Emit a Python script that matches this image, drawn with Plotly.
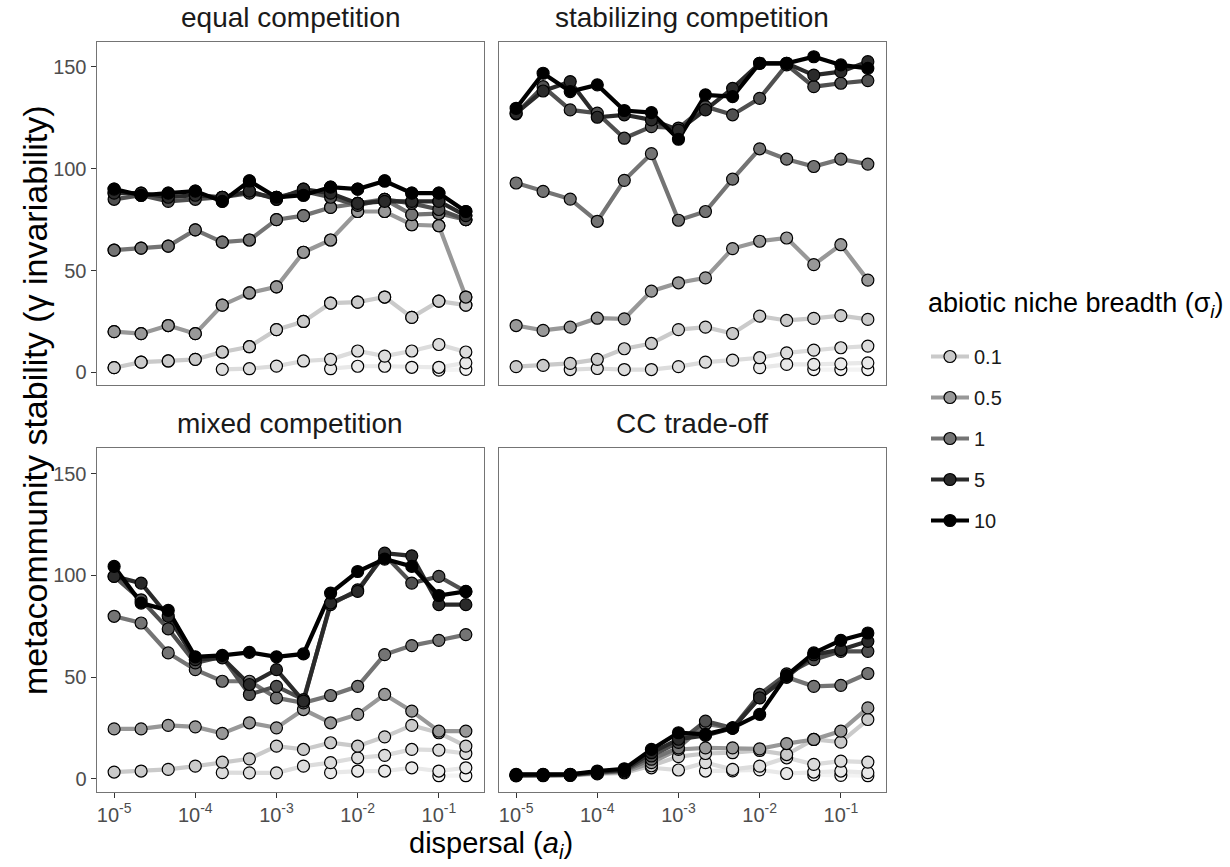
import plotly.graph_objects as go

# ---- data -----------------------------------------------------------------
dispersal = [1e-5, 2.15e-5, 4.64e-5, 1e-4, 2.15e-4, 4.64e-4, 1e-3, 2.15e-3,
             4.64e-3, 1e-2, 2.15e-2, 4.64e-2, 1e-1, 2.15e-1]

sigma_levels = [0.01, 0.025, 0.05, 0.1, 0.5, 1, 2.5, 5, 10]
sigma_colors = ["#f3f3f3", "#e9e9e9", "#dcdcdc", "#cacaca", "#989898",
                "#747474", "#505050", "#2a2a2a", "#000000"]
legend_levels = [0.1, 0.5, 1, 5, 10]

panel_titles = ["equal competition", "stabilizing competition",
                "mixed competition", "CC trade-off"]

N = None

# equal competition
eq_001 = [N, N, N, N, N, N, N, N, N, N, N, N, 1.1, 1.5]
eq_0025 = [N, N, N, N, N, N, N, N, 1.8, 3.0, 3.0, 2.5, 2.5, 4.7]
eq_005 = [N, N, N, N, 1.5, 1.8, 3.1, 5.6, 6.4, 10.5, 8.0, 10.5, 13.7, 10.0]
eq_01 = [2.3, 5.0, 5.6, 6.4, 10.0, 12.6, 21.0, 25.0, 34.0, 34.5, 37.0, 27.0, 35.0, 33.0]
eq_05 = [20.0, 19.0, 23.0, 19.0, 33.0, 39.0, 42.0, 59.0, 65.0, 79.0, 79.0, 72.5, 72.0, 37.0]
eq_1 = [60.0, 61.0, 62.0, 70.0, 64.0, 65.0, 75.0, 77.0, 81.0, 83.0, 85.0, 77.5, 78.0, 75.0]
eq_25 = [85.0, 87.0, 84.0, 85.0, 86.0, 88.0, 86.0, 89.0, 86.0, 82.0, 85.0, 83.0, 80.0, 75.0]
eq_5 = [88.0, 88.0, 86.0, 87.0, 86.0, 89.0, 85.0, 90.0, 88.0, 83.0, 84.0, 84.0, 84.0, 77.0]
eq_10 = [90.0, 87.0, 88.0, 89.0, 84.0, 94.0, 86.0, 87.0, 91.0, 90.0, 94.0, 88.0, 88.0, 79.0]

# stabilizing competition
st_001 = [N, N, N, N, N, N, N, N, N, N, N, 1.4, 1.4, 1.4]
st_0025 = [N, N, N, N, N, N, N, N, N, 2.3, 3.9, 3.9, 4.2, 4.7]
st_005 = [N, N, 1.4, 1.9, 1.4, 1.4, 2.8, 5.0, 6.0, 7.2, 9.6, 10.9, 12.1, 12.9]
st_01 = [2.8, 3.4, 4.4, 6.4, 11.6, 14.2, 21.0, 22.2, 19.1, 27.6, 25.5, 26.5, 27.9, 26.0]
st_05 = [23.0, 20.6, 22.2, 26.6, 26.3, 39.9, 44.0, 46.4, 60.8, 64.4, 66.0, 52.9, 62.7, 45.3]
st_1 = [93.0, 88.9, 85.1, 74.2, 94.3, 107.4, 74.7, 79.0, 94.9, 109.8, 104.7, 101.1, 104.7, 102.3]
st_25 = [127.0, 140.3, 128.9, 127.3, 115.0, 120.7, 120.0, 130.5, 126.5, 134.6, 151.0, 140.3, 142.0, 143.3]
st_5 = [127.3, 138.2, 142.8, 125.3, 126.5, 124.0, 119.0, 128.9, 139.5, 151.8, 151.8, 146.0, 147.7, 152.6]
st_10 = [129.7, 146.9, 137.9, 141.2, 128.6, 127.6, 114.5, 136.3, 135.4, 151.8, 151.8, 155.0, 151.0, 149.3]

# mixed competition
mx_001 = [N, N, N, N, N, N, N, N, N, N, N, N, 1.6, 1.6]
mx_0025 = [N, N, N, N, N, N, N, N, 3.1, 3.9, 3.9, 5.5, 3.9, 5.5]
mx_005 = [N, N, N, N, 3.1, 3.0, 3.0, 6.3, 8.0, 10.4, 11.6, 14.5, 14.2, 12.5]
mx_01 = [3.4, 3.9, 4.7, 6.3, 8.3, 9.9, 16.1, 14.5, 17.8, 16.1, 20.7, 26.3, 22.7, 16.1]
mx_05 = [24.6, 24.6, 26.3, 25.6, 22.4, 27.6, 25.1, 34.1, 27.6, 31.7, 41.5, 33.3, 23.5, 23.5]
mx_1 = [79.9, 76.6, 61.9, 53.7, 48.0, 48.0, 39.8, 37.4, 41.0, 45.5, 61.1, 65.5, 68.1, 70.9]
mx_25 = [99.5, 88.0, 73.7, 57.0, 60.0, 41.5, 45.5, 39.0, 85.6, 92.9, 110.0, 96.2, 99.5, 92.0]
mx_5 = [99.5, 96.2, 79.9, 58.6, 59.5, 46.4, 53.7, 38.2, 86.4, 92.1, 110.9, 109.6, 85.6, 85.6]
mx_10 = [104.4, 86.4, 82.8, 60.0, 60.7, 62.2, 60.0, 61.4, 91.3, 101.9, 108.0, 104.4, 90.1, 92.1]

# colonization-competition trade-off
cc_001 = [N, N, N, N, N, N, N, N, N, N, N, 2.0, 1.8, 1.6]
cc_0025 = [N, N, N, N, N, N, N, 3.9, 4.0, 4.5, 2.7, 3.4, 3.9, 3.1]
cc_005 = [N, N, N, N, N, 5.5, 4.4, 8.0, 4.7, 6.3, 10.4, 7.2, 8.8, 8.3]
cc_01 = [1.5, 1.6, 1.7, 2.5, 3.0, 6.5, 11.0, 12.5, 12.9, 14.0, 12.0, 19.4, 18.1, 29.2]
cc_05 = [1.7, 1.8, 1.9, 2.8, 3.5, 8.0, 14.5, 15.3, 15.3, 14.8, 17.4, 19.4, 23.5, 34.9]
cc_1 = [1.8, 1.9, 2.0, 3.0, 4.0, 9.7, 15.3, 27.0, 25.0, 40.0, 50.0, 45.5, 46.0, 51.8]
cc_25 = [1.8, 2.0, 2.0, 3.2, 4.2, 11.3, 18.0, 28.4, 25.0, 41.5, 51.6, 58.6, 62.7, 62.7]
cc_5 = [2.0, 2.1, 2.2, 3.5, 4.5, 12.9, 19.5, 21.4, 25.0, 39.8, 50.0, 61.0, 63.5, 67.6]
cc_10 = [2.3, 2.3, 2.3, 3.9, 5.0, 14.5, 22.7, 21.9, 25.1, 31.7, 50.8, 61.9, 68.1, 71.7]

panels = [
    [eq_001, eq_0025, eq_005, eq_01, eq_05, eq_1, eq_25, eq_5, eq_10],
    [st_001, st_0025, st_005, st_01, st_05, st_1, st_25, st_5, st_10],
    [mx_001, mx_0025, mx_005, mx_01, mx_05, mx_1, mx_25, mx_5, mx_10],
    [cc_001, cc_0025, cc_005, cc_01, cc_05, cc_1, cc_25, cc_5, cc_10],
]

# ---- layout geometry (paper fractions) -------------------------------------
W, H = 1230, 867
FONT = "Liberation Sans, Arial, Helvetica, sans-serif"
x_domains = [[96.5 / W, 483.5 / W], [498.5 / W, 885.5 / W]]
y_domains = [[1 - 385.0 / H, 1 - 41.7 / H], [1 - 791.6 / H, 1 - 448.3 / H]]
x_range = [-5.217, -0.45]
y_range = [-6.2, 162.4]

fig = go.Figure()

marker_line = dict(color="#000000", width=1.2)

for p, series in enumerate(panels):
    ax = "" if p == 0 else str(p + 1)
    xref, yref = "x" + ax, "y" + ax
    # line layer first, points on top (ascending sigma, darkest drawn last)
    for s, vals in enumerate(series):
        sig = sigma_levels[s]
        col = sigma_colors[s]
        in_legend = (p == 0 and sig in legend_levels)
        fig.add_trace(go.Scatter(
            x=dispersal, y=vals, xaxis=xref, yaxis=yref,
            mode="lines+markers" if in_legend else "lines",
            line=dict(color=col, width=4.2),
            marker=dict(size=12, color=col, line=marker_line),
            name=f"{sig:g}", legendgroup=f"{sig:g}",
            showlegend=in_legend, hoverinfo="skip",
        ))
    for s, vals in enumerate(series):
        col = sigma_colors[s]
        fig.add_trace(go.Scatter(
            x=dispersal, y=vals, xaxis=xref, yaxis=yref, mode="markers",
            marker=dict(size=12, color=col, line=marker_line),
            showlegend=False, hoverinfo="skip",
        ))

tick_font = dict(family=FONT, size=20, color="#4d4d4d")
x_tickvals = [1e-5, 1e-4, 1e-3, 1e-2, 1e-1]
x_ticktext = ["10<sup>-5</sup>", "10<sup>-4</sup>", "10<sup>-3</sup>",
              "10<sup>-2</sup>", "10<sup>-1</sup>"]

layout_axes = {}
for p in range(4):
    row, col = divmod(p, 2)
    ax = "" if p == 0 else str(p + 1)
    bottom = row == 1
    left = col == 0
    layout_axes["xaxis" + ax] = dict(
        type="log", range=x_range, domain=x_domains[col],
        anchor="y" + ax, showgrid=False, zeroline=False,
        showline=True, mirror=True, linecolor="#747474", linewidth=1,
        ticks="outside" if bottom else "", ticklen=5, tickwidth=1,
        tickcolor="#333333", showticklabels=bottom,
        tickmode="array", tickvals=x_tickvals, ticktext=x_ticktext,
        tickfont=tick_font,
    )
    layout_axes["yaxis" + ax] = dict(
        range=y_range, domain=y_domains[row], anchor="x" + ax,
        showgrid=False, zeroline=False,
        showline=True, mirror=True, linecolor="#747474", linewidth=1,
        ticks="outside" if left else "", ticklen=5, tickwidth=1,
        tickcolor="#333333", showticklabels=left,
        tickmode="array", tickvals=[0, 50, 100, 150], tickfont=tick_font,
    )

annotations = []
for p, title in enumerate(panel_titles):
    row, col = divmod(p, 2)
    annotations.append(dict(
        text=title, xref="paper", yref="paper",
        x=sum(x_domains[col]) / 2, y=y_domains[row][1],
        xanchor="center", yanchor="bottom", yshift=7, showarrow=False,
        font=dict(family=FONT, size=28, color="#1a1a1a"),
    ))
annotations.append(dict(
    text="metacommunity stability (γ invariability)",
    xref="paper", yref="paper", x=35 / W, y=1 - 400 / H,
    xanchor="center", yanchor="middle", textangle=-90, showarrow=False,
    font=dict(family=FONT, size=34, color="#000000"),
))
annotations.append(dict(
    text="dispersal (<i>a</i><sub><i>i</i></sub>)",
    xref="paper", yref="paper", x=491 / W, y=1 - 845 / H,
    xanchor="center", yanchor="middle", showarrow=False,
    font=dict(family=FONT, size=29, color="#000000"),
))
# colour-scale title, set above the legend keys
annotations.append(dict(
    text="abiotic niche breadth (σ<sub><i>i</i></sub>)",
    xref="paper", yref="paper", x=926 / W, y=1 - 305 / H,
    xanchor="left", yanchor="middle", showarrow=False,
    font=dict(family=FONT, size=27, color="#000000"),
))

fig.update_layout(
    width=W, height=H,
    margin=dict(l=0, r=0, t=0, b=0),
    paper_bgcolor="white", plot_bgcolor="white",
    font=dict(family=FONT, color="#1a1a1a"),
    annotations=annotations,
    legend=dict(
        x=926 / W, y=1 - 337 / H, xanchor="left", yanchor="top",
        font=dict(family=FONT, size=20, color="#1a1a1a"),
        itemwidth=38, tracegroupgap=12, bgcolor="rgba(0,0,0,0)",
    ),
    **layout_axes,
)

fig.write_html("out.html")
